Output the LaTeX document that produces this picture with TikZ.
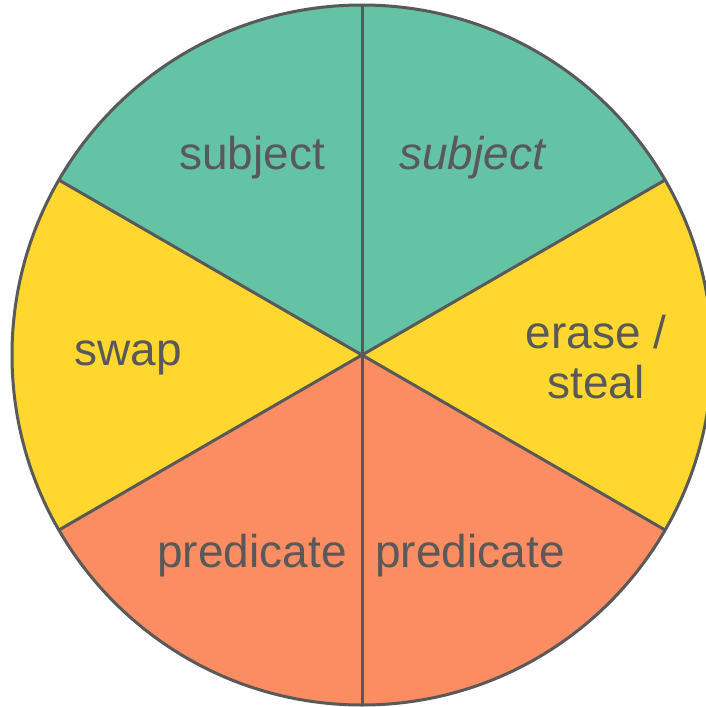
\documentclass[tikz,border=0pt]{standalone}
\usepackage{fontspec}
\setmainfont{Liberation Sans}
\definecolor{slicegreen}{HTML}{64C3A5}
\definecolor{sliceyellow}{HTML}{FFD72F}
\definecolor{sliceorange}{HTML}{FC8C62}
\definecolor{edgegray}{HTML}{595959}
\begin{document}
\begin{tikzpicture}[x=1pt,y=-1pt,
  slice/.style={draw=edgegray,line width=3pt,line join=round},
  lbl/.style={text=edgegray,font=\fontsize{46}{50}\selectfont,inner sep=0pt,align=center}]
\useasboundingbox (0,0) rectangle (705,707);
\coordinate (c) at (362,355);
\def\R{350}
% six 60-degree sectors (angles counter-clockwise, y axis downward so negate)
\fill[slicegreen]  (c) -- ++(-30:\R) arc[start angle=-30,end angle=-90,radius=\R] -- cycle;
\fill[slicegreen]  (c) -- ++(-90:\R) arc[start angle=-90,end angle=-150,radius=\R] -- cycle;
\fill[sliceyellow] (c) -- ++(-150:\R) arc[start angle=-150,end angle=-210,radius=\R] -- cycle;
\fill[sliceorange] (c) -- ++(-210:\R) arc[start angle=-210,end angle=-330,radius=\R] -- cycle;
\fill[sliceyellow] (c) -- ++(30:\R) arc[start angle=30,end angle=-30,radius=\R] -- cycle;
% divider lines and outline
\draw[slice] (c) -- ++(-90:\R);
\draw[slice] (c) -- ++(90:\R);
\draw[slice] (c) -- ++(-30:\R);
\draw[slice] (c) -- ++(-150:\R);
\draw[slice] (c) -- ++(30:\R);
\draw[slice] (c) -- ++(150:\R);
\draw[slice] (c) circle[radius=\R];
% labels
\node[lbl] (s1) at (252,158) {subject};
\node[lbl] (s2) at (472,158) {\itshape subject};
\node[lbl] (er) at (596,357) {erase /\\steal};
\node[lbl] (sw) at (128,358) {swap};
\node[lbl] (p1) at (252,556) {predicate};
\node[lbl] (p2) at (470,556) {predicate};
\end{tikzpicture}
\end{document}
